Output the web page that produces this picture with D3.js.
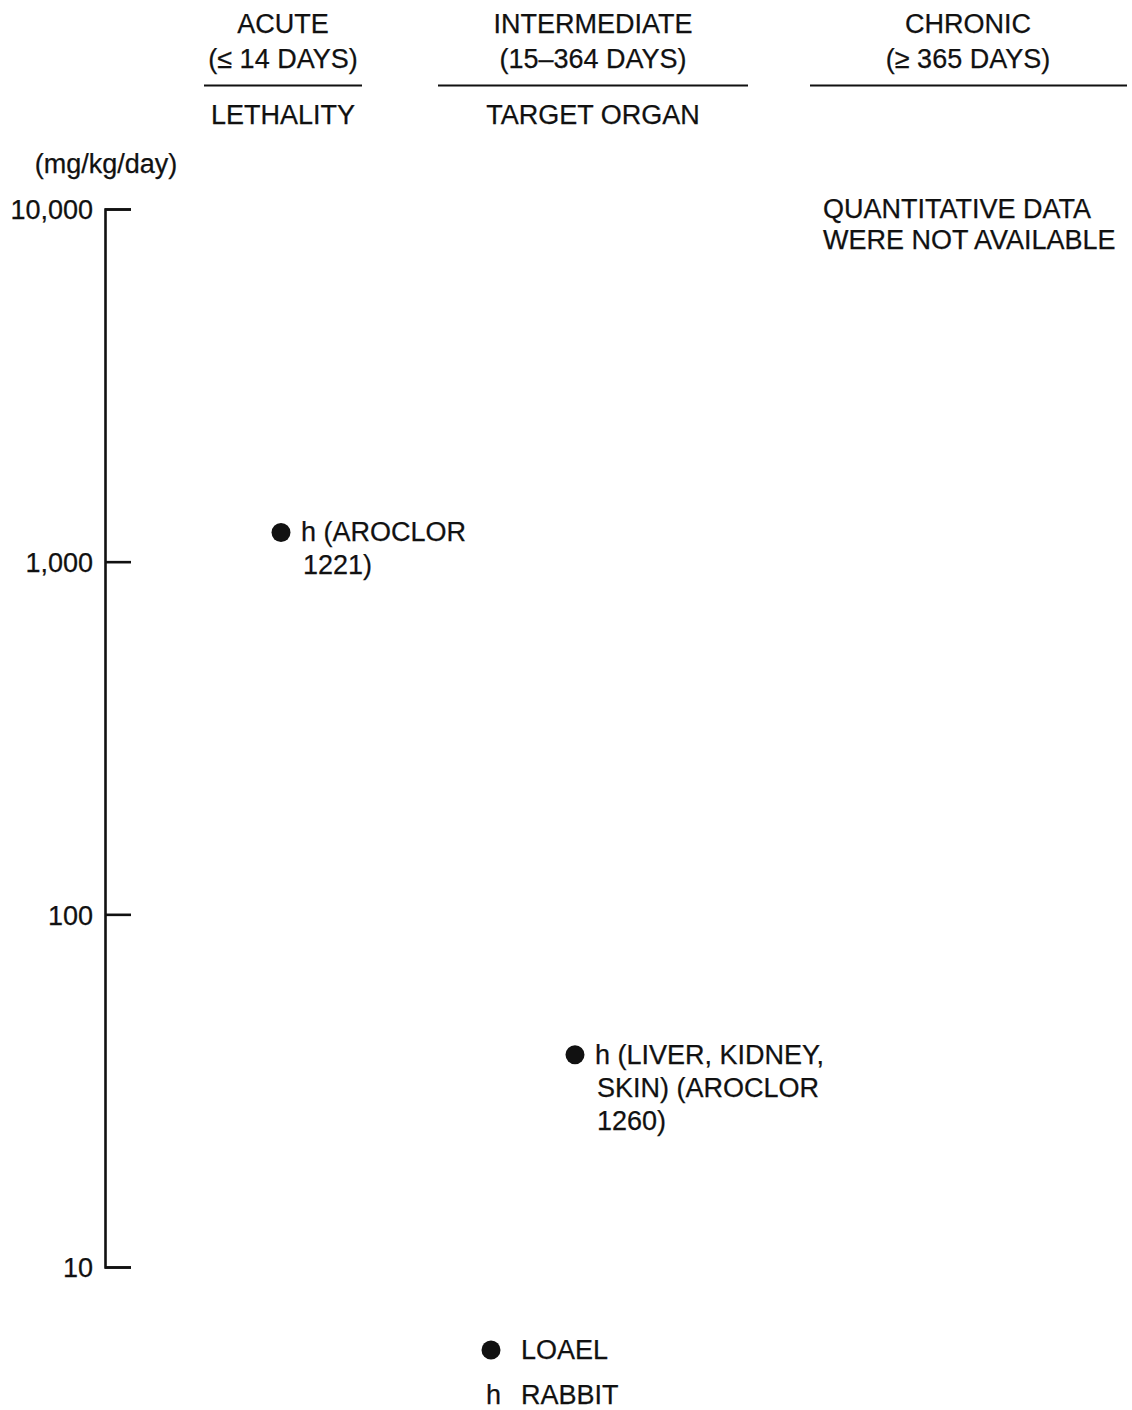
<!DOCTYPE html>
<html>
<head>
<meta charset="utf-8">
<script src="https://cdn.jsdelivr.net/npm/d3@7"></script>
<style>
  html, body { margin: 0; padding: 0; background: #fff; }
  svg { display: block; }
  text { font-family: "Liberation Sans", Arial, Helvetica, sans-serif; fill: #111; stroke: #111; stroke-width: 0.25px; }
</style>
</head>
<body>
<svg id="chart" width="1132" height="1410"></svg>
<script>
// ─── Data ────────────────────────────────────────────────────────────────────

const categories   = ['ACUTE', 'INTERMEDIATE', 'CHRONIC'];
const durations    = ['(\u2264 14 DAYS)', '(15\u2013364 DAYS)', '(\u2265 365 DAYS)'];
const endpoints    = ['LETHALITY', 'TARGET ORGAN', ''];
const tickValues   = [10, 100, 1000, 10000];
const unitLabel    = '(mg/kg/day)';

// LOAEL points: column, dose (mg/kg/day), label lines
const loaelCategory = ['ACUTE', 'INTERMEDIATE'];
const loaelDose     = [1210, 40];
const loaelLabels   = [
  ['h (AROCLOR', '1221)'],
  ['h (LIVER, KIDNEY,', 'SKIN) (AROCLOR', '1260)']
];

const noDataNote = ['QUANTITATIVE DATA', 'WERE NOT AVAILABLE'];

// ─── Layout ──────────────────────────────────────────────────────────────────

const FS = 27;
const LH = 33;
const svg = d3.select('#chart');

const y = d3.scaleLog().domain([10, 10000]).range([1267, 209]);
const headerX = d3.scaleOrdinal(categories, [283, 593, 968]);
const markX   = d3.scaleOrdinal(categories, [281, 575, 968]);
const ruleHalf = d3.scaleOrdinal(categories, [79, 155, 156]);

// ─── Column headers ──────────────────────────────────────────────────────────

const head = svg.append('g').attr('class', 'headers');
categories.forEach((c, i) => {
  const cx = headerX(c);
  head.append('text').attr('x', cx).attr('y', 33)
    .attr('text-anchor', 'middle').style('font-size', FS + 'px').text(c);
  head.append('text').attr('x', cx).attr('y', 68)
    .attr('text-anchor', 'middle').style('font-size', FS + 'px').text(durations[i]);
  head.append('line')
    .attr('x1', cx - ruleHalf(c) + (i === 2 ? -2 : 0)).attr('x2', cx + ruleHalf(c) + (i === 2 ? 3 : 0))
    .attr('y1', 85.5).attr('y2', 85.5)
    .attr('stroke', '#111').attr('stroke-width', 1.8);
  if (endpoints[i]) {
    head.append('text').attr('x', cx).attr('y', 124)
      .attr('text-anchor', 'middle').style('font-size', FS + 'px').text(endpoints[i]);
  }
});

// ─── Y axis ──────────────────────────────────────────────────────────────────

svg.append('text').attr('x', 106).attr('y', 173)
  .attr('text-anchor', 'middle').style('font-size', FS + 'px').text(unitLabel);

const axisG = svg.append('g').attr('transform', 'translate(105,0)');
axisG.call(
  d3.axisLeft(y)
    .tickValues(tickValues)
    .tickSize(-26)
    .tickPadding(12)
    .tickFormat(d3.format(','))
).call(sel => {
  sel.select('.domain').attr('stroke', '#111').attr('stroke-width', 2.6);
  sel.selectAll('.tick line').attr('stroke', '#111').attr('stroke-width', 2.6);
  sel.selectAll('.tick text')
    .attr('fill', '#111')
    .attr('dy', '0.36em')
    .style('font-family', '"Liberation Sans", Arial, sans-serif')
    .style('font-size', FS + 'px');
});

// ─── LOAEL points ────────────────────────────────────────────────────────────

const pts = loaelCategory.map((c, i) => ({ c, dose: loaelDose[i], lines: loaelLabels[i] }));
const pg = svg.append('g').attr('class', 'points')
  .selectAll('g').data(pts).join('g')
  .attr('transform', d => `translate(${markX(d.c)},${y(d.dose)})`);

pg.append('circle').attr('r', 9.5).attr('fill', '#111');
pg.each(function (d) {
  const t = d3.select(this).append('text')
    .attr('x', 20).attr('y', 9).style('font-size', FS + 'px');
  d.lines.forEach((ln, j) => {
    t.append('tspan').attr('x', j === 0 ? 20 : 22).attr('dy', j === 0 ? 0 : LH).text(ln);
  });
});

// ─── Chronic note ────────────────────────────────────────────────────────────

const note = svg.append('text').attr('x', 823).attr('y', 218).style('font-size', FS + 'px');
noDataNote.forEach((ln, j) => {
  note.append('tspan').attr('x', 823).attr('dy', j === 0 ? 0 : 31).text(ln);
});

// ─── Legend ──────────────────────────────────────────────────────────────────

const leg = svg.append('g').attr('transform', 'translate(491,1350)');
leg.append('circle').attr('r', 9.5).attr('fill', '#111');
leg.append('text').attr('x', 30).attr('y', 9).style('font-size', FS + 'px').text('LOAEL');
leg.append('text').attr('x', -5).attr('y', 54).style('font-size', FS + 'px').text('h');
leg.append('text').attr('x', 30).attr('y', 54).style('font-size', FS + 'px').text('RABBIT');
</script>
</body>
</html>
